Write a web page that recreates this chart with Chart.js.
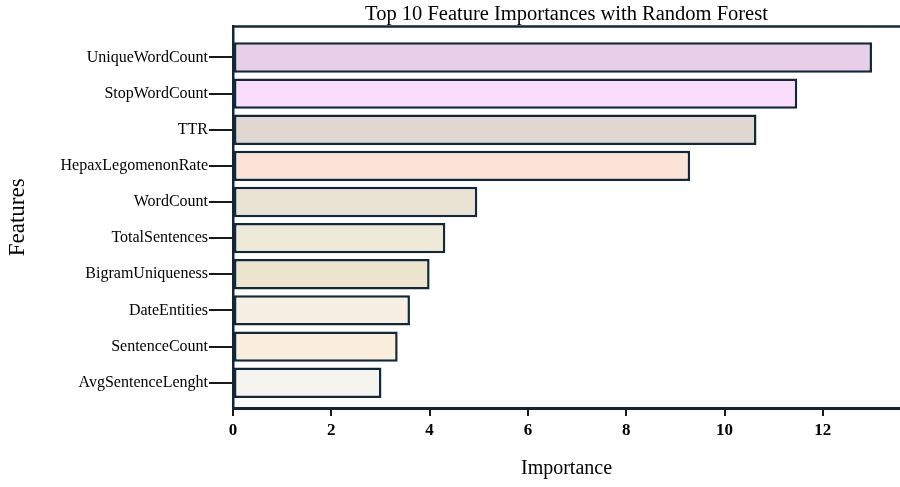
<!DOCTYPE html>
<html>
<head>
<meta charset="utf-8">
<title>Top 10 Feature Importances with Random Forest</title>
<script src="https://cdn.jsdelivr.net/npm/chart.js@4.4.1/dist/chart.umd.min.js"></script>
<style>
  html, body { margin: 0; padding: 0; background: #fff; }
</style>
</head>
<body>
<canvas id="myChart" width="900" height="487"></canvas>
<script>
// data
const features = [
  "UniqueWordCount",
  "StopWordCount",
  "TTR",
  "HepaxLegomenonRate",
  "WordCount",
  "TotalSentences",
  "BigramUniqueness",
  "DateEntities",
  "SentenceCount",
  "AvgSentenceLenght",
];
const importances = [13.0, 11.48, 10.65, 9.3, 4.97, 4.32, 4.0, 3.6, 3.35, 3.02];
const xTicks = [0, 2, 4, 6, 8, 10, 12];

// styles
const barColors = [
  "#e8cfe9",
  "#fadcfd",
  "#e0d7d1",
  "#fbe3d7",
  "#eae3d3",
  "#efe9d7",
  "#ede4cd",
  "#f7efe3",
  "#faefdc",
  "#f6f4ef",
];
const edgeColor = "#10283a";
const fontFamily = "'Liberation Serif', 'Times New Roman', serif";

Chart.defaults.font.family = fontFamily;
Chart.defaults.color = "#000";

// the thin frame line along the top of the plot
const topLine = {
  id: "topLine",
  afterDraw(chart) {
    const { ctx, chartArea } = chart;
    ctx.save();
    ctx.strokeStyle = edgeColor;
    ctx.lineWidth = 2.5;
    ctx.beginPath();
    ctx.moveTo(chartArea.left, chartArea.top);
    ctx.lineTo(chartArea.right, chartArea.top);
    ctx.stroke();
    ctx.restore();
  },
};

const ctx = document.querySelector("#myChart").getContext("2d");

new Chart(ctx, {
  type: "bar",
  data: {
    datasets: [
      {
        label: "Importance",
        data: features.map((name, i) => ({ x: importances[i], y: i })),
        backgroundColor: barColors,
        borderColor: edgeColor,
        borderWidth: 2.5,
        borderSkipped: false,
        categoryPercentage: 0.84,
        barPercentage: 1,
      },
    ],
  },
  options: {
    indexAxis: "y",
    responsive: false,
    animation: false,
    layout: { padding: { left: 0, right: 0, top: 0, bottom: 0 } },
    plugins: {
      legend: { display: false },
      tooltip: { enabled: false },
      title: {
        display: true,
        text: "Top 10 Feature Importances with Random Forest",
        fullSize: false,
        color: "#000",
        font: { size: 20.5, weight: "normal" },
        padding: { top: 2, bottom: 0 },
      },
    },
    scales: {
      x: {
        type: "linear",
        min: 0,
        max: 13.57,
        afterBuildTicks: (scale) => {
          scale.ticks = xTicks.map((v) => ({ value: v }));
        },
        afterFit: (scale) => {
          scale.height = 79;
        },
        ticks: {
          color: "#000",
          padding: 4,
          font: { size: 17, weight: "bold" },
        },
        grid: {
          display: true,
          drawOnChartArea: false,
          drawTicks: true,
          tickLength: 8,
          color: "#1a1a1a",
          lineWidth: 2,
        },
        border: { display: true, color: edgeColor, width: 3 },
        title: {
          display: true,
          text: "Importance",
          color: "#000",
          font: { size: 20 },
          padding: { top: 0, bottom: 6 },
        },
      },
      y: {
        type: "linear",
        reverse: true,
        offset: false,
        min: -0.854,
        max: 9.7,
        afterBuildTicks: (scale) => {
          scale.ticks = features.map((name, i) => ({ value: i }));
        },
        afterFit: (scale) => {
          scale.width = 233;
        },
        ticks: {
          color: "#000",
          padding: 1,
          font: { size: 16 },
          callback: (value) => features[value],
        },
        grid: {
          display: true,
          offset: false,
          drawOnChartArea: false,
          drawTicks: true,
          tickLength: 24,
          color: "#1a1a1a",
          lineWidth: 2,
        },
        border: { display: true, color: edgeColor, width: 2.5 },
        title: {
          display: true,
          text: "Features",
          color: "#000",
          font: { size: 23 },
          padding: { top: 4, bottom: 0 },
        },
      },
    },
  },
  plugins: [topLine],
});
</script>
</body>
</html>
